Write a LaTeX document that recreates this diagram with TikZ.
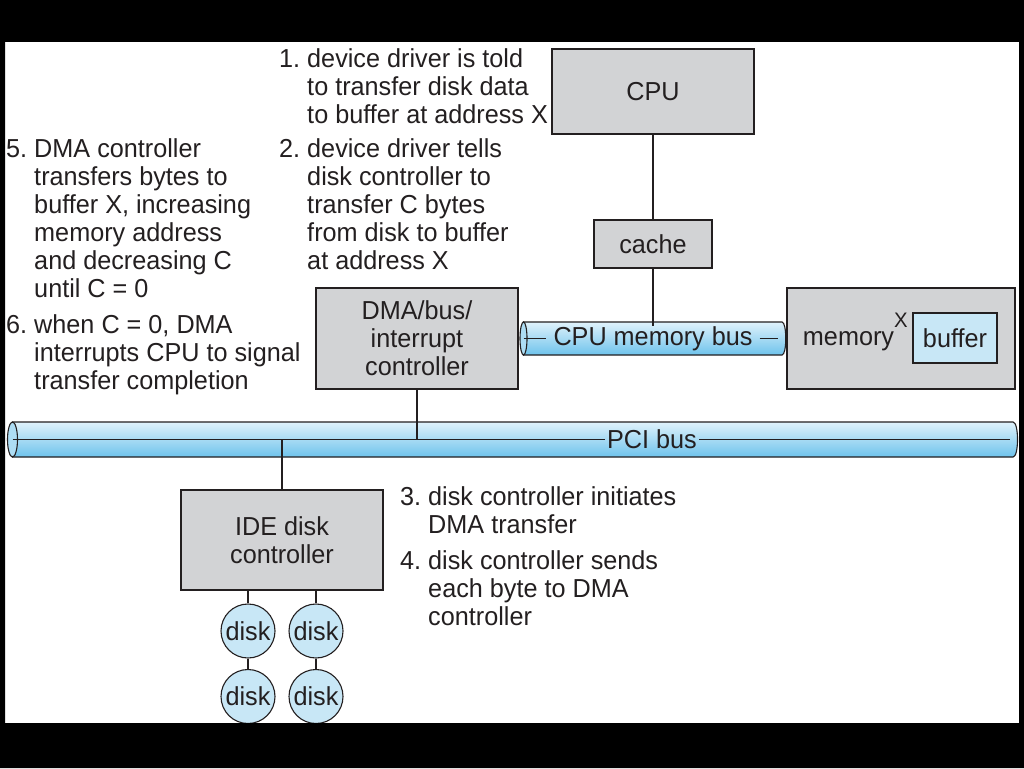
\documentclass[tikz,border=0pt]{standalone}
\usepackage{fontspec}
\setmainfont{Liberation Sans}[FakeStretch=0.97]
\usetikzlibrary{positioning}

\definecolor{ink}{RGB}{35,31,32}
\definecolor{boxgray}{RGB}{210,211,213}
\definecolor{tubetop}{RGB}{224,242,251}
\definecolor{tubebot}{RGB}{110,195,236}
\definecolor{lightblue}{RGB}{200,231,246}

\tikzset{
  hw/.style={draw=ink, fill=boxgray, line width=1.1, align=center, inner sep=0},
  disk/.style={circle, draw=ink, fill=lightblue, line width=1.1, inner sep=0, minimum size=54},
  note/.style={anchor=base west, inner sep=0},
  wire/.style={draw=ink, line width=1.1},
  tube/.style={draw=ink, line width=1.1, top color=tubetop, bottom color=tubebot},
}

\begin{document}
\begin{tikzpicture}[x=1pt, y=-1pt,
    every node/.style={font=\fontsize{26}{28}\selectfont, text=ink}]
  \useasboundingbox (0,0) rectangle (1024,768);
  \fill[white] (0,0) rectangle (1024,768);

  % hardware boxes
  \node[hw, minimum width=202, minimum height=85] (cpu) at (653,91.5) {CPU};
  \node[hw, minimum width=118, minimum height=48] (cache) at (653,244) {cache};
  \node[hw, minimum width=202, minimum height=101] (dma) at (417,338.5) {DMA/bus/\\interrupt\\controller};
  \node[hw, minimum width=228, minimum height=101] (mem) at (901,338.5) {};
  \node[anchor=base] (memtxt) at (848.5,345) {memory};
  \node[font=\fontsize{21}{22}\selectfont, inner sep=0] (xmark) at (901,320) {X};
  \node[hw, fill=lightblue, minimum width=84, minimum height=50] (buf) at (955,338) {buffer};
  \node[hw, minimum width=202, minimum height=100] (ide) at (282,540) {IDE disk\\controller};

  % disks
  \node[disk] (d1) at (248,631) {disk};
  \node[disk] (d2) [on grid, right=68pt of d1] {disk};
  \node[disk] (d3) [on grid, below=65.5pt of d1] {disk};
  \node[disk] (d4) [on grid, below=65.5pt of d2] {disk};

  % CPU memory bus
  \path[tube] (523.5,322) -- (782,322) .. controls (787,322) and (787,355) .. (782,355) -- (523.5,355) -- cycle;
  \draw[ink, line width=1.1, fill=tubetop!55!tubebot] (523.5,338.5) ellipse [x radius=3.5, y radius=16.5];
  \coordinate (cmbL) at (523.5,338.5);
  \coordinate (cmbR) at (778,338.5);
  \node[anchor=base, inner xsep=7, inner ysep=0] (cmb) at (653,345) {CPU memory bus};

  % PCI bus
  \path[tube] (12.5,422) -- (1013,422) .. controls (1019,422) and (1019,457) .. (1013,457) -- (12.5,457) -- cycle;
  \draw[ink, line width=1.1, fill=tubetop!55!tubebot] (12.5,439.5) ellipse [x radius=5, y radius=17.5];
  \coordinate (pciL) at (12.5,439.5);
  \coordinate (pciR) at (1010,439.5);
  \node[inner xsep=2, inner ysep=0] (pci) at (652,439.5) {PCI bus};

  % connectors
  \path[wire]
    (cmbL) -- (cmbL -| cmb.west)
    (cmbR -| cmb.east) -- (cmbR)
    (pciL) -- (pciL -| pci.west)
    (pciR -| pci.east) -- (pciR)
    (cpu.south) -- (cache.north)
    (cache.south) -- (cmb.north)
    (dma.south) -- (dma.south |- pciL)
    (ide.north) -- (ide.north |- pciL)
    (d1 |- ide.south) -- (d1.north)
    (d2 |- ide.south) -- (d2.north)
    (d1.south) -- (d3.north)
    (d2.south) -- (d4.north);

  % numbered steps
  \node[note] (n1) at (279,67) {\begin{tabular}[t]{@{}l@{\ }l@{}}1. & device driver is told\\
    & to transfer disk data\\ & to buffer at address X\end{tabular}};
  \node[note] (n2) at (279,157) {\begin{tabular}[t]{@{}l@{\ }l@{}}2. & device driver tells\\
    & disk controller to\\ & transfer C bytes\\ & from disk to buffer\\ & at address X\end{tabular}};
  \node[note] (n3) at (400,505) {\begin{tabular}[t]{@{}l@{\ }l@{}}3. & disk controller initiates\\
    & DMA transfer\end{tabular}};
  \node[note] (n4) at (400,569) {\begin{tabular}[t]{@{}l@{\ }l@{}}4. & disk controller sends\\
    & each byte to DMA\\ & controller\end{tabular}};
  \node[note] (n5) at (6,157) {\begin{tabular}[t]{@{}l@{\ }l@{}}5. & DMA controller\\
    & transfers bytes to\\ & buffer X, increasing\\ & memory address\\ & and decreasing C\\ & until C = 0\end{tabular}};
  \node[note] (n6) at (6,333) {\begin{tabular}[t]{@{}l@{\ }l@{}}6. & when C = 0, DMA\\
    & interrupts CPU to signal\\ & transfer completion\end{tabular}};

  % black frame
  \fill[black, even odd rule] (0,0) rectangle (1024,768) (5,42) rectangle (1019,723);
\end{tikzpicture}
\end{document}
